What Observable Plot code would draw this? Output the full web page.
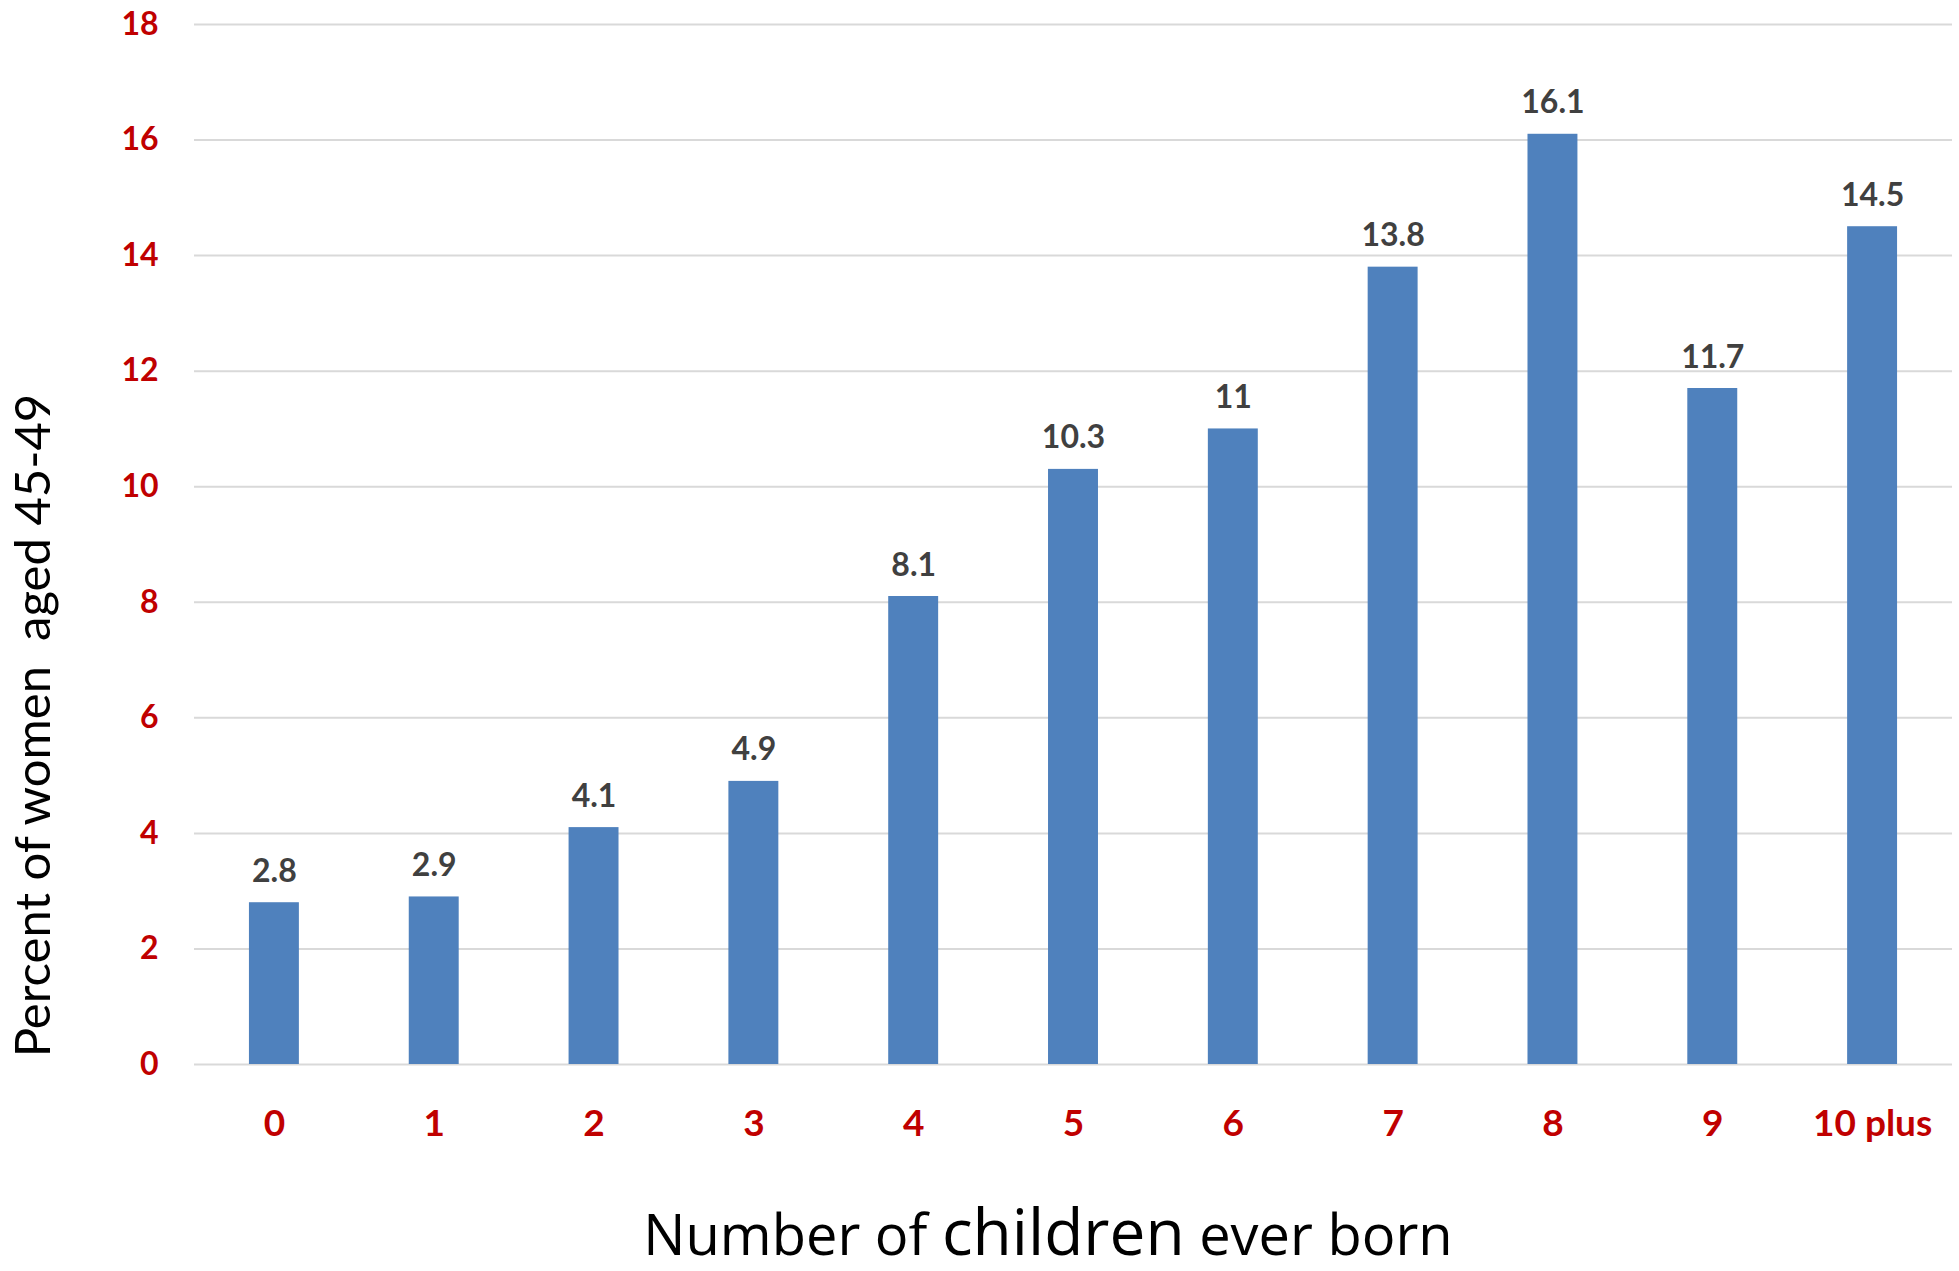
<!DOCTYPE html>
<html><head><meta charset="utf-8">
<script src="https://cdn.jsdelivr.net/npm/d3@7"></script>
<script src="https://cdn.jsdelivr.net/npm/@observablehq/plot@0.6"></script>
<style>html,body{margin:0;padding:0;background:#fff;}</style>
</head><body><div id="chart"></div>
<script>
const categories = ["0","1","2","3","4","5","6","7","8","9","10 plus"];
const values = [2.8, 2.9, 4.1, 4.9, 8.1, 10.3, 11, 13.8, 16.1, 11.7, 14.5];
const yTicks = [0, 2, 4, 6, 8, 10, 12, 14, 16, 18];
const yTitle = "Percent of women\u00a0 aged 45-49";
const xTitleParts = ["Number of ", "children", " ever born"];

const data = categories.map((c, i) => ({category: c, value: values[i]}));

const W = 1959, H = 1271;
const chart = Plot.plot({
  width: W, height: H,
  marginTop: 24, marginRight: 7, marginBottom: 207, marginLeft: 194,
  style: {fontFamily: "Lato, sans-serif", background: "#fff", overflow: "visible"},
  x: {domain: categories, paddingInner: 0.6875, paddingOuter: 0.34375, round: false, label: null},
  y: {domain: [0, 18], label: null},
  marks: [
    Plot.gridY(yTicks, {stroke: "#D9D9D9", strokeOpacity: 1, strokeWidth: 2}),
    Plot.barY(data, {x: "category", y: "value", fill: "#4F81BD"}),
    Plot.text(data, {x: "category", y: "value", text: d => String(d.value), lineAnchor: "bottom", dy: -21,
      fontSize: 32, fontWeight: "bold", fill: "#404040"}),
    Plot.axisY(yTicks, {tickSize: 0, tickPadding: 36, tickFormat: d => String(d), fontSize: 32, fontWeight: "bold", fill: "#C00000", label: null}),
    Plot.axisX({tickSize: 0, tickPadding: 45, fontSize: 37, fontWeight: "bold", fill: "#C00000", label: null}),
    Plot.text([yTitle], {frameAnchor: "left", textAnchor: "middle", lineAnchor: "middle", rotate: -90, dx: -160, dy: 181, fontSize: 49, fill: "#000", fontWeight: "normal"})
  ]
});
document.getElementById("chart").appendChild(chart);

// x-axis title with a larger "children"
const xr = chart.scale("x").range;
const cx = (xr[0] + xr[1]) / 2 - 25;
const t = d3.select(chart).append("text")
  .attr("x", cx).attr("y", H - 16)
  .attr("text-anchor", "middle")
  .attr("fill", "#000")
  .style("font-family", "'Open Sans', sans-serif")
  .style("white-space", "pre")
  .attr("font-size", 56);
xTitleParts.forEach((p, i) => t.append("tspan").attr("font-size", i === 1 ? 64 : 56).text(p));
</script>
</body></html>
